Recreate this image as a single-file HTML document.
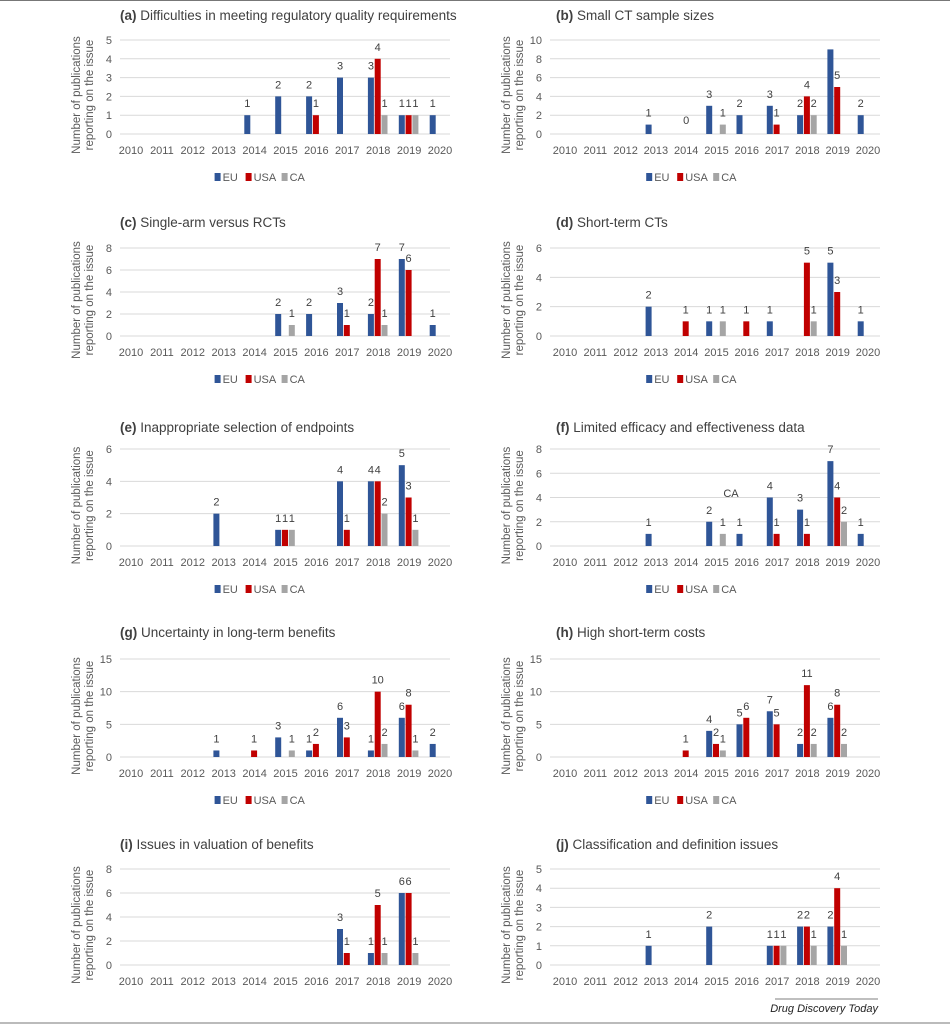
<!DOCTYPE html>
<html><head><meta charset="utf-8">
<style>
html,body{margin:0;padding:0;background:#fff;}
svg{display:block;font-family:"Liberation Sans",sans-serif;}
</style></head>
<body>
<svg id="s" width="950" height="1024" viewBox="0 0 950 1024" xmlns="http://www.w3.org/2000/svg">
<line x1="0" y1="0.5" x2="950" y2="0.5" stroke="#777" stroke-width="1"/>
<line x1="0" y1="1023" x2="950" y2="1023" stroke="#777" stroke-width="1"/>
</svg>
<script>
const S=document.getElementById('s');
const NS='http://www.w3.org/2000/svg';
function el(t,a,txt){const e=document.createElementNS(NS,t);for(const k in a)e.setAttribute(k,a[k]);if(txt!==undefined)e.textContent=txt;S.appendChild(e);return e;}
const rows=[{t:15,top:40,z:134},{t:222,top:248,z:336},{t:427,top:449,z:546},{t:632,top:659,z:757},{t:844,top:869,z:965}];
const cols=[{g0:120,g1:450,c0:131,st:30.9,tx:120,ax:80},{g0:550,g1:880,c0:565,st:30.3,tx:556,ax:510}];
const P=[
['(a)','Difficulties in meeting regulatory quality requirements',5,1,{2014:1,2015:2,2016:2,2017:3,2018:3,2019:1,2020:1},{2016:1,2018:4,2019:1},{2018:1,2019:1},true],
['(b)','Small CT sample sizes',10,2,{2013:1,2015:3,2016:2,2017:3,2018:2,2019:9,2020:2},{2017:1,2018:4,2019:5},{2015:1,2018:2},true],
['(c)','Single-arm versus RCTs',8,2,{2015:2,2016:2,2017:3,2018:2,2019:7,2020:1},{2017:1,2018:7,2019:6},{2015:1,2018:1},true],
['(d)','Short-term CTs',6,2,{2013:2,2015:1,2017:1,2019:5,2020:1},{2014:1,2016:1,2018:5,2019:3},{2015:1,2018:1},true],
['(e)','Inappropriate selection of endpoints',6,2,{2013:2,2015:1,2017:4,2018:4,2019:5},{2015:1,2017:1,2018:4,2019:3},{2015:1,2018:2,2019:1},true],
['(f)','Limited efficacy and effectiveness data',8,2,{2013:1,2015:2,2016:1,2017:4,2018:3,2019:7,2020:1},{2017:1,2018:1,2019:4},{2015:1,2019:2},true],
['(g)','Uncertainty in long-term benefits',15,5,{2013:1,2015:3,2016:1,2017:6,2018:1,2019:6,2020:2},{2014:1,2016:2,2017:3,2018:10,2019:8},{2015:1,2018:2,2019:1},true],
['(h)','High short-term costs',15,5,{2015:4,2016:5,2017:7,2018:2,2019:6},{2014:1,2015:2,2016:6,2017:5,2018:11,2019:8},{2015:1,2018:2,2019:2},true],
['(i)','Issues in valuation of benefits',8,2,{2017:3,2018:1,2019:6},{2017:1,2018:5,2019:6},{2018:1,2019:1},false],
['(j)','Classification and definition issues',5,1,{2013:1,2015:2,2017:1,2018:2,2019:2},{2017:1,2018:2,2019:4},{2017:1,2018:1,2019:1},false]];
const colors=['#2f5597','#c00000','#a5a5a5'];
P.forEach((p,i)=>{
 const r=rows[Math.floor(i/2)],c=cols[i%2];
 const [lab,title,max,step,eu,us,ca,leg]=p;
 const t=el('text',{x:c.tx,y:r.t+5,'font-size':13.5,fill:'#404040'});
 const b=document.createElementNS(NS,'tspan');b.setAttribute('font-weight','bold');b.textContent=lab;t.appendChild(b);
 const tt=document.createElementNS(NS,'tspan');tt.textContent=' '+title;t.appendChild(tt);
 const k=(r.z-r.top)/max;
 for(let v=0;v<=max;v+=step){const y=r.z-v*k;
  el('line',{x1:c.g0,x2:c.g1,y1:y,y2:y,stroke:'#d9d9d9','stroke-width':1});
  el('text',{x:c.g0-8,y:y+4,'font-size':11,fill:'#595959','text-anchor':'end'},v);}
 for(let j=0;j<11;j++) el('text',{x:c.c0+j*c.st,y:r.z+20,'font-size':11,fill:'#595959','text-anchor':'middle'},2010+j);
 const my=(r.top+r.z)/2+8;
 el('text',{x:c.ax,y:my,'font-size':11.5,fill:'#595959','text-anchor':'middle',transform:`rotate(-90 ${c.ax} ${my})`},'Number of publications');
 el('text',{x:c.ax+13,y:my,'font-size':11.5,fill:'#595959','text-anchor':'middle',transform:`rotate(-90 ${c.ax+13} ${my})`},'reporting on the issue');
 [eu,us,ca].forEach((d,s)=>{for(const yr in d){const v=d[yr];const cx=c.c0+(yr-2010)*c.st+(s-1)*6.8-0.5;
  const h=v*k;el('rect',{x:cx-3,y:r.z-h,width:6,height:h,fill:colors[s]});
  if(!(i==1&&s==0&&yr==2019)) el('text',{x:cx,y:r.z-h-8,'font-size':11,fill:'#404040','text-anchor':'middle'},v);}});
 if(i==1) el('text',{x:c.c0+4*c.st,y:r.z-10,'font-size':11,fill:'#404040','text-anchor':'middle'},0);
 if(i==5) el('text',{x:731,y:497,'font-size':11,fill:'#404040','text-anchor':'middle'},'CA');
 if(leg){const ly=r.z+47,lx=c.c0+4*c.st-40;
  const items=[['EU',0],['USA',31],['CA',67]];
  items.forEach(([n,o],s)=>{el('rect',{x:lx+o,y:ly-8,width:6,height:8,fill:colors[s]});el('text',{x:lx+o+8,y:ly,'font-size':11,fill:'#595959'},n);});}
});
el('line',{x1:775,x2:878,y1:999,y2:999,stroke:'#555','stroke-width':0.8});
el('text',{x:878,y:1012,'font-size':11,'font-style':'italic',fill:'#222','text-anchor':'end'},'Drug Discovery Today');
</script>
</body></html>
